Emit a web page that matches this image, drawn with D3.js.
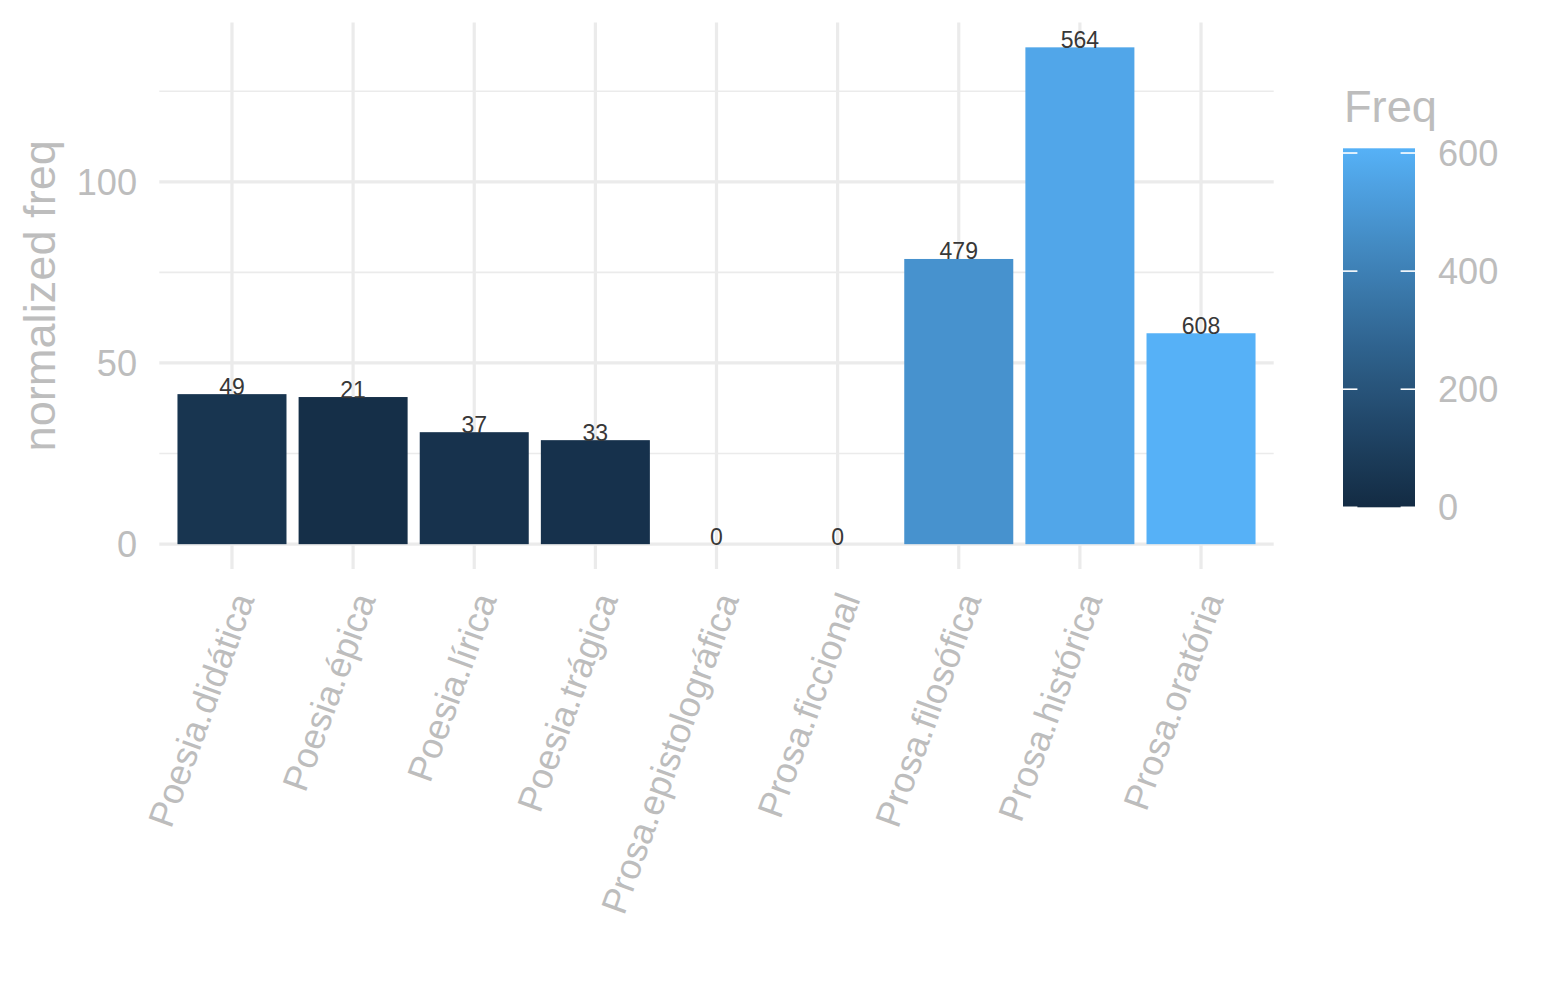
<!DOCTYPE html>
<html>
<head>
<meta charset="utf-8">
<script src="https://cdn.jsdelivr.net/npm/d3@7"></script>
<style>
  html, body { margin: 0; padding: 0; background: #fff; }
  svg { display: block; font-family: "Liberation Sans", Arial, Helvetica, sans-serif; }
</style>
</head>
<body>
<svg id="chart" width="1545" height="1000"></svg>
<script>
// ---- data ----
const categories = ["Poesia.didática", "Poesia.épica", "Poesia.lírica", "Poesia.trágica",
  "Prosa.epistolográfica", "Prosa.ficcional", "Prosa.filosófica", "Prosa.histórica", "Prosa.oratória"];
const normFreq = [41.4, 40.6, 30.9, 28.7, 0, 0, 78.7, 137.1, 58.2];
const freq = [49, 21, 37, 33, 0, 0, 479, 564, 608];
const yMajorTicks = [0, 50, 100];
const yMinorTicks = [25, 75, 125];
const legendTicks = [0, 200, 400, 600];
const freqLimits = [0, 608];

// ---- layout ----
const svg = d3.select("#chart");
const panel = { left: 159.3, right: 1273.7, top: 22.5, bottom: 569 };
const grid = "#EBEBEB";
const axisText = "#BDBDBD";
const baseSize = 45.2;
const tickSize = baseSize * 0.8;

const x = d3.scaleBand().domain(categories).range([panel.left, panel.right])
  .paddingInner(0.1).paddingOuter(0.15);
const xc = d => x(d) + x.bandwidth() / 2;

const yMax = d3.max(normFreq);
const pad = yMax * 0.05;
const y = d3.scaleLinear().domain([-pad, yMax + pad]).range([panel.bottom, panel.top]);

const color = d3.scaleLinear().domain(freqLimits).range(["#132B43", "#56B1F7"])
  .interpolate(d3.interpolateLab);

// grid
const g = svg.append("g");
g.selectAll(".ymin").data(yMinorTicks).join("line")
  .attr("x1", panel.left).attr("x2", panel.right)
  .attr("y1", d => y(d)).attr("y2", d => y(d))
  .attr("stroke", grid).attr("stroke-width", 1.6);
g.selectAll(".ymaj").data(yMajorTicks).join("line")
  .attr("x1", panel.left).attr("x2", panel.right)
  .attr("y1", d => y(d)).attr("y2", d => y(d))
  .attr("stroke", grid).attr("stroke-width", 3.2);
g.selectAll(".xmaj").data(categories).join("line")
  .attr("x1", d => xc(d)).attr("x2", d => xc(d))
  .attr("y1", panel.top).attr("y2", panel.bottom)
  .attr("stroke", grid).attr("stroke-width", 3.2);

// bars
const data = categories.map((c, i) => ({ c, v: normFreq[i], f: freq[i] }));
svg.append("g").selectAll("rect").data(data).join("rect")
  .attr("x", d => x(d.c)).attr("width", x.bandwidth())
  .attr("y", d => y(d.v)).attr("height", d => y(0) - y(d.v))
  .attr("fill", d => color(d.f));

// value labels
svg.append("g").selectAll("text").data(data).join("text")
  .attr("x", d => xc(d.c)).attr("y", d => y(d.v) + 0.5)
  .attr("text-anchor", "middle")
  .attr("font-size", 23).attr("fill", "#383838")
  .text(d => d.f);

// y axis labels
svg.append("g").selectAll("text").data(yMajorTicks).join("text")
  .attr("x", 137).attr("y", d => y(d))
  .attr("dy", "0.36em")
  .attr("text-anchor", "end")
  .attr("font-size", tickSize).attr("fill", axisText)
  .text(d => d);

// y title
svg.append("text")
  .attr("transform", `translate(55,${(panel.top + panel.bottom) / 2}) rotate(-90)`)
  .attr("text-anchor", "middle")
  .attr("font-size", baseSize).attr("fill", axisText)
  .text("normalized freq");

// x labels
svg.append("g").selectAll("text").data(categories).join("text")
  .attr("transform", d => `translate(${xc(d) + 23},599) rotate(-70)`)
  .attr("text-anchor", "end")
  .attr("font-size", tickSize).attr("fill", axisText)
  .text(d => d);

// legend
const lg = { x: 1343, w: 72, top: 148.3, bottom: 507.3 };
const ly = d3.scaleLinear().domain(freqLimits).range([lg.bottom, lg.top]);
const defs = svg.append("defs");
const grad = defs.append("linearGradient").attr("id", "lgrad")
  .attr("x1", 0).attr("y1", 1).attr("x2", 0).attr("y2", 0);
d3.range(0, 1.0001, 0.05).forEach(t => {
  grad.append("stop").attr("offset", t)
    .attr("stop-color", color(freqLimits[0] + t * (freqLimits[1] - freqLimits[0])));
});
svg.append("rect").attr("x", lg.x).attr("y", lg.top)
  .attr("width", lg.w).attr("height", lg.bottom - lg.top)
  .attr("fill", "url(#lgrad)");
const tk = svg.append("g");
legendTicks.forEach(t => {
  tk.append("line").attr("x1", lg.x).attr("x2", lg.x + 14.4)
    .attr("y1", ly(t)).attr("y2", ly(t)).attr("stroke", "#fff").attr("stroke-width", 1.6);
  tk.append("line").attr("x1", lg.x + lg.w - 14.4).attr("x2", lg.x + lg.w)
    .attr("y1", ly(t)).attr("y2", ly(t)).attr("stroke", "#fff").attr("stroke-width", 1.6);
});
svg.append("g").selectAll("text").data(legendTicks).join("text")
  .attr("x", 1438).attr("y", d => ly(d))
  .attr("dy", "0.36em")
  .attr("font-size", tickSize).attr("fill", axisText)
  .text(d => d);
svg.append("text").attr("x", 1344).attr("y", 122)
  .attr("font-size", baseSize).attr("fill", axisText)
  .text("Freq");
</script>
</body>
</html>
